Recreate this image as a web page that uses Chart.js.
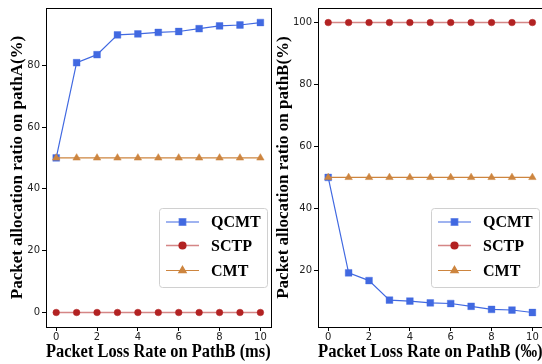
<!DOCTYPE html>
<html>
<head>
<meta charset="utf-8">
<script src="https://cdn.jsdelivr.net/npm/chart.js@4"></script>
<style>
  html, body { margin: 0; padding: 0; background: #fff; }
  #wrap { position: relative; width: 542px; height: 364px; overflow: hidden; background: #fff; }
  canvas { position: absolute; top: 0; }
  #chartA { left: 0; }
  #chartB { left: 272px; }
</style>
</head>
<body>
<div id="wrap">
  <canvas id="chartA" width="276" height="364"></canvas>
  <canvas id="chartB" width="276" height="364"></canvas>
</div>
<script>
// Data
const lossRate = [0, 1, 2, 3, 4, 5, 6, 7, 8, 9, 10];
const seriesNames = ['QCMT', 'SCTP', 'CMT'];

const qcmtPathA = [50, 80.8, 83.4, 89.8, 90.1, 90.6, 90.9, 91.8, 92.7, 93.0, 93.8];
const sctpPathA = [0, 0, 0, 0, 0, 0, 0, 0, 0, 0, 0];
const cmtPathA  = [50, 50, 50, 50, 50, 50, 50, 50, 50, 50, 50];

const qcmtPathB = [50, 19.2, 16.7, 10.4, 10.1, 9.5, 9.3, 8.4, 7.4, 7.2, 6.4];
const sctpPathB = [100, 100, 100, 100, 100, 100, 100, 100, 100, 100, 100];
const cmtPathB  = [50, 50, 50, 50, 50, 50, 50, 50, 50, 50, 50];

const xTicks  = [0, 2, 4, 6, 8, 10];
const yTicksA = [0, 20, 40, 60, 80];
const yTicksB = [20, 40, 60, 80, 100];

const serif = "'Liberation Serif', 'Times New Roman', serif";
const sans = "'DejaVu Sans', sans-serif";

function pts(ys) {
  return ys.map((y, i) => ({ x: lossRate[i], y: y }));
}

function makeDatasets(q, s, c) {
  return [
    {
      label: seriesNames[0], data: pts(q), order: 3,
      borderColor: '#4169E1', backgroundColor: '#4169E1', borderWidth: 1.2,
      pointStyle: 'rect', pointRadius: 4.8, pointBorderColor: 'rgba(65,105,225,0.6)',
      pointBackgroundColor: '#4169E1', pointBorderWidth: 0.6
    },
    {
      label: seriesNames[1], data: pts(s), order: 2,
      borderColor: 'rgba(178,34,34,0.55)', backgroundColor: '#B22222', borderWidth: 1.6,
      pointStyle: 'circle', pointRadius: 3.3, pointBorderColor: '#B22222',
      pointBackgroundColor: '#B22222', pointBorderWidth: 0.5
    },
    {
      label: seriesNames[2], data: pts(c), order: 1,
      borderColor: '#CD853F', backgroundColor: '#CD853F', borderWidth: 1.2,
      pointStyle: 'triangle', pointRadius: 4.3, pointBorderColor: '#CD853F',
      pointBackgroundColor: '#CD853F', pointBorderWidth: 0.5
    }
  ];
}

// box round the plot area, like matplotlib spines
const framePlugin = {
  id: 'frame',
  afterDraw(chart) {
    const a = chart.chartArea, ctx = chart.ctx;
    ctx.save();
    ctx.strokeStyle = '#000';
    ctx.lineWidth = 1;
    ctx.strokeRect(Math.round(a.left) + 0.5, Math.round(a.top) + 0.5,
      Math.round(a.right - a.left), Math.round(a.bottom - a.top));
    ctx.restore();
  }
};

// legend inside the plot, lower right
const boxLegend = {
  id: 'boxLegend',
  afterDraw(chart) {
    const a = chart.chartArea, ctx = chart.ctx;
    const bx = a.left + 113, by = a.top + 200, bw = 108, bh = 79;
    ctx.save();
    ctx.fillStyle = 'rgba(255,255,255,0.85)';
    ctx.strokeStyle = '#d0d0d0';
    ctx.lineWidth = 1;
    ctx.beginPath();
    ctx.roundRect(bx + 0.5, by + 0.5, bw, bh, 3);
    ctx.fill();
    ctx.stroke();
    const rows = [14, 37.5, 62.5];
    chart.data.datasets.forEach((ds, i) => {
      const y = by + rows[i];
      ctx.strokeStyle = ds.borderColor;
      ctx.lineWidth = ds.borderWidth;
      ctx.beginPath();
      ctx.moveTo(bx + 7, y);
      ctx.lineTo(bx + 40, y);
      ctx.stroke();
      ctx.fillStyle = ds.pointBackgroundColor;
      ctx.strokeStyle = ds.pointBorderColor;
      Chart.helpers.drawPoint(ctx, {
        pointStyle: ds.pointStyle, radius: ds.pointRadius, rotation: 0, borderWidth: 0.5
      }, bx + 23.5, y);
      ctx.fillStyle = '#000';
      ctx.font = 'bold 16px ' + serif;
      ctx.textBaseline = 'middle';
      ctx.fillText(ds.label, bx + 52, y + 1);
    });
    ctx.restore();
  }
};

function makeChart(id, datasets, yMin, yMax, yTicks, yTitle, xTitle, padLeft) {
  return new Chart(document.getElementById(id), {
    type: 'line',
    data: { datasets: datasets },
    plugins: [framePlugin, boxLegend],
    options: {
      responsive: false,
      animation: false,
      devicePixelRatio: 1,
      layout: { padding: { left: padLeft, right: 3, top: 7, bottom: 0 } },
      plugins: { legend: { display: false }, tooltip: { enabled: false } },
      scales: {
        x: {
          type: 'linear', min: -0.5, max: 10.5,
          afterBuildTicks: s => { s.ticks = xTicks.map(v => ({ value: v })); },
          afterFit: s => { s.height = 37; },
          grid: { display: true, drawOnChartArea: false, drawTicks: true, tickLength: 4, color: '#000' },
          border: { display: true, color: '#000', width: 1 },
          ticks: { color: '#222', font: { family: sans, size: 10 }, padding: 0, maxRotation: 0 },
          title: { display: true, text: xTitle, color: '#000', padding: { top: 0, bottom: 1 },
                   font: { family: serif, size: 18, weight: 'bold' } }
        },
        y: {
          type: 'linear', min: yMin, max: yMax,
          afterBuildTicks: s => { s.ticks = yTicks.map(v => ({ value: v })); },
          afterFit: s => { s.width = 46 - padLeft; },
          grid: { display: true, drawOnChartArea: false, drawTicks: true, tickLength: 4, color: '#000' },
          border: { display: true, color: '#000', width: 1 },
          ticks: { color: '#222', font: { family: sans, size: 10 }, padding: 2 },
          title: { display: true, text: yTitle, color: '#000', padding: { top: 0, bottom: 0 },
                   font: { family: serif, size: 17, weight: 'bold' } }
        }
      }
    }
  });
}

makeChart('chartA', makeDatasets(qcmtPathA, sctpPathA, cmtPathA), -4.69, 98.5, yTicksA,
  'Packet allocation ratio on pathA(%)', 'Packet Loss Rate on PathB (ms)', 7);
makeChart('chartB', makeDatasets(qcmtPathB, sctpPathB, cmtPathB), 1.72, 104.7, yTicksB,
  'Packet allocation ratio on pathB(%)', 'Packet Loss Rate on PathB (\u2030)', 1);
</script>
</body>
</html>
